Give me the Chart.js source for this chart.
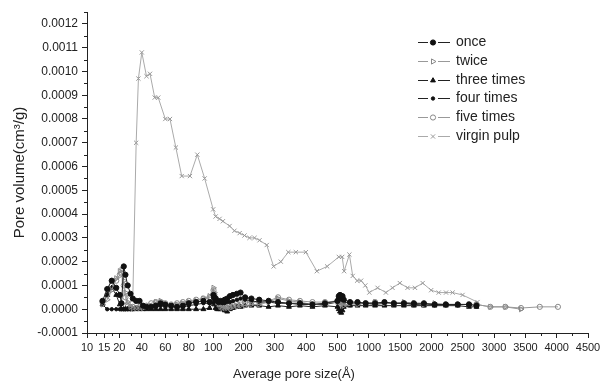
<!DOCTYPE html>
<html>
<head>
<meta charset="utf-8">
<script src="https://cdn.jsdelivr.net/npm/chart.js@4.4.1/dist/chart.umd.min.js"></script>
<style>
  html, body { margin: 0; padding: 0; background: #fff; }
</style>
</head>
<body>
<canvas id="poreChart" width="605" height="381"></canvas>
<script>
// ---- data (pore size in Å, pore volume in cm3/g) ----
const xTickValues = [10, 15, 20, 40, 60, 80, 100, 200, 300, 400, 500, 1000, 1500, 2000, 2500, 3000, 3500, 4000, 4500];
const yTickValues = [-0.0001, 0, 0.0001, 0.0002, 0.0003, 0.0004, 0.0005, 0.0006, 0.0007, 0.0008, 0.0009, 0.0010, 0.0011, 0.0012];

const seriesNames = ["once", "twice", "three times", "four times", "five times", "virgin pulp"];

// shared pore size grid of the treated samples
const poreSize = [
  14.5, 16, 17.5, 19, 20.5, 22, 24, 25.5, 27.5, 30,
  32, 35, 38, 41, 44, 48, 52, 56, 60, 65,
  70, 75, 80, 86, 92, 97, 101, 104, 108, 113,
  118, 124, 130, 138, 146, 155, 165, 178, 190, 205,
  225, 250, 280, 310, 345, 380, 420, 460, 500, 520,
  540, 560, 580, 600, 700, 820, 950, 1100, 1250, 1400,
  1560, 1720, 1880, 2050, 2230, 2420, 2600, 2720, 2940, 3180,
  3430, 3730, 4020
];

const once = [
  3.5e-5, 8.5e-5, 12e-5, 9e-5, 6e-5, 2.5e-5, 18e-5, 14.5e-5, 10e-5, 6.5e-5,
  4.5e-5, 3.5e-5, 3.5e-5, 1.5e-5, 1e-5, 1e-5, 1.5e-5, 2.5e-5, 2e-5, 1.5e-5,
  1e-5, 1.5e-5, 2.5e-5, 3e-5, 3.5e-5, 3e-5, 6e-5, 5e-5, 4.5e-5, 3.5e-5,
  3e-5, 3.5e-5, 3e-5, 4e-5, 4.5e-5, 5.5e-5, 6e-5, 6.5e-5, 7e-5, 5e-5,
  4.5e-5, 4e-5, 3.5e-5, 3e-5, 2.5e-5, 2.5e-5, 2e-5, 2.5e-5, 3.5e-5, 5.5e-5,
  6e-5, 4.5e-5, 5.5e-5, 4e-5, 3e-5, 3e-5, 2.5e-5, 2.5e-5, 3e-5, 2.5e-5,
  2.5e-5, 2.5e-5, 2.5e-5, 2e-5, 2e-5, 2e-5, 2e-5, 1.5e-5, null, null,
  null, null, null
];

const twice = [
  2e-5, 4e-5, 8e-5, 13e-5, 16e-5, 16.5e-5, 12e-5, 7e-5, 3e-5, 1e-5,
  0.5e-5, 0.5e-5, 0.5e-5, 0.5e-5, 1e-5, 1.5e-5, 3e-5, 3.5e-5, 2e-5, 1.5e-5,
  2e-5, 2.5e-5, 3e-5, 3.5e-5, 4.5e-5, 5.5e-5, 9e-5, 7e-5, 5e-5, 3e-5,
  2e-5, 1e-5, 0.5e-5, 0.5e-5, 0.5e-5, 0.5e-5, 1e-5, 1e-5, 1.5e-5, 1.5e-5,
  2e-5, 2e-5, 3e-5, 4.5e-5, 3.5e-5, 3e-5, 2e-5, 2.5e-5, 3e-5, 4e-5,
  3e-5, 3e-5, 2.5e-5, 1.5e-5, 2.5e-5, 2e-5, 2.5e-5, 3e-5, 2.5e-5, 2.5e-5,
  3e-5, 2.5e-5, 2e-5, 2.5e-5, 2e-5, 2e-5, 2e-5, 2e-5, 1e-5, 1e-5,
  0, null, null
];

const threeTimes = [
  2e-5, 6e-5, 9e-5, 6e-5, 2e-5, 0, 0, 0, 0, 0,
  0, 0, 0, 0, 0, 0, 0, 0, 0, 0,
  0, 0, 0, 0, 0, 0.5e-5, 3e-5, 2e-5, 0.5e-5, 0,
  0, 0, 0, -0.5e-5, -1e-5, 0, 0.5e-5, 1e-5, 1e-5, 1.5e-5,
  1.5e-5, 1.5e-5, 1e-5, 1.5e-5, 1e-5, 1.5e-5, 1e-5, 1.5e-5, 1e-5, 0,
  -1e-5, -1.5e-5, -0.5e-5, 1e-5, 1.5e-5, 1.5e-5, 1.5e-5, 1.5e-5, 1.5e-5, 1.5e-5,
  1.5e-5, 1.5e-5, 1.5e-5, 1.5e-5, 1.5e-5, 1.5e-5, 1e-5, 1e-5, null, null,
  null, null, null
];

const fourTimes = [
  2e-5, 0, 0, 0, 0, 0, 0, 0, 0, 0,
  0, 0.5e-5, 0.5e-5, 1e-5, 1e-5, 1e-5, 1e-5, 1.5e-5, 1e-5, 1e-5,
  1e-5, 1e-5, 1.5e-5, 2e-5, 2.5e-5, 2.5e-5, 5e-5, 4e-5, 3.5e-5, 3e-5,
  2.5e-5, 2.5e-5, 2.5e-5, 2.5e-5, 3e-5, 3e-5, 3.5e-5, 4e-5, 4.5e-5, 4e-5,
  3.5e-5, 3e-5, 3e-5, 2.5e-5, 2.5e-5, 2e-5, 2e-5, 2e-5, 3e-5, 4.5e-5,
  5e-5, 6e-5, 4.5e-5, 3e-5, 2.5e-5, 2.5e-5, 2.5e-5, 2e-5, 2.5e-5, 2.5e-5,
  2.5e-5, 2e-5, 2e-5, 2e-5, 2e-5, 2e-5, 2e-5, 2e-5, null, null,
  null, null, null
];

const fiveTimes = [
  3e-5, 6e-5, 10e-5, 12e-5, 14.5e-5, 15e-5, 10e-5, 5e-5, 2e-5, 1e-5,
  1e-5, 0.5e-5, 1e-5, 1e-5, 1.5e-5, 2.5e-5, 3e-5, 3e-5, 2.5e-5, 2e-5,
  2.5e-5, 3e-5, 3.5e-5, 4e-5, 4.5e-5, 5e-5, 8e-5, 6e-5, 4e-5, 2.5e-5,
  1.5e-5, 1e-5, 1e-5, 1e-5, 1.5e-5, 2e-5, 2e-5, 2.5e-5, 3e-5, 3e-5,
  3e-5, 3e-5, 3.5e-5, 5e-5, 4e-5, 3.5e-5, 3e-5, 3e-5, 3.5e-5, 3e-5,
  2e-5, 2e-5, 1.5e-5, 1.5e-5, 2e-5, 2.5e-5, 2.5e-5, 3e-5, 2.5e-5, 2.5e-5,
  2.5e-5, 2e-5, 2e-5, 2e-5, 2e-5, 2e-5, 2e-5, 2e-5, 1e-5, 1e-5,
  0.5e-5, 1e-5, 1e-5
];

// virgin pulp has its own pore size grid
const virginSize = [
  32, 35, 37, 40, 44, 47, 51, 54, 60, 64,
  69, 74, 81, 87, 93, 100, 108, 121, 132, 154,
  170, 187, 203, 219, 235, 251, 274, 296, 319, 343,
  367, 399, 434, 467, 521, 575, 606, 690, 743, 813,
  876, 944, 1008, 1140, 1273, 1378, 1495, 1618, 1737, 1860,
  1995, 2116, 2233, 2338, 2497, 2735
];
const virginPulp = [
  4e-5, 70e-5, 97e-5, 108e-5, 98e-5, 99e-5, 89e-5, 89e-5, 80e-5, 80e-5,
  68e-5, 56e-5, 56e-5, 65e-5, 55e-5, 42e-5, 39e-5, 38e-5, 37e-5, 35e-5,
  33e-5, 32e-5, 31e-5, 30e-5, 30e-5, 29e-5, 27e-5, 18e-5, 20e-5, 24e-5,
  24e-5, 24e-5, 16e-5, 18e-5, 22e-5, 22e-5, 16e-5, 23e-5, 14e-5, 12e-5,
  12e-5, 10e-5, 7e-5, 9e-5, 7e-5, 9e-5, 11e-5, 9e-5, 9e-5, 11e-5,
  8e-5, 7e-5, 7e-5, 7e-5, 6e-5, 3e-5
];

// ---- broken x axis: each labelled size sits at its own slot ----
const axisSlots = [0, 0.55, 1.03, 1.75, 2.5, 3.25, 4.03, 5, 6, 7, 8, 9, 10, 11, 12, 13, 14, 15, 16];

function slotOf(size) {
  for (let i = 0; i < xTickValues.length - 1; i++) {
    const a = xTickValues[i], b = xTickValues[i + 1];
    if (size <= b || i === xTickValues.length - 2) {
      return axisSlots[i] + (size - a) / (b - a) * (axisSlots[i + 1] - axisSlots[i]);
    }
  }
}

function toPoints(sizes, values) {
  const pts = [];
  sizes.forEach((s, i) => {
    if (values[i] !== null) pts.push({ x: slotOf(s), y: values[i] });
  });
  return pts;
}

const FONT = "'Liberation Sans', Arial, Helvetica, sans-serif";
const INK = "#222";
const GREY = "#999";

function series(label, sizes, values, style) {
  return Object.assign({
    label,
    data: toPoints(sizes, values),
    borderWidth: 1,
    pointBorderWidth: 1,
    pointHoverRadius: 0,
    tension: 0,
    fill: false
  }, style);
}

const datasets = [
  series(seriesNames[0], poreSize, once, {
    borderColor: INK, pointStyle: "circle", pointRadius: 2.6,
    pointBackgroundColor: "#111", pointBorderColor: "#111"
  }),
  series(seriesNames[1], poreSize, twice, {
    borderColor: GREY, pointStyle: "triangle", pointRotation: 90, pointRadius: 3,
    pointBackgroundColor: "rgba(0,0,0,0)", pointBorderColor: "#888"
  }),
  series(seriesNames[2], poreSize, threeTimes, {
    borderColor: INK, pointStyle: "triangle", pointRadius: 2.8,
    pointBackgroundColor: "#111", pointBorderColor: "#111"
  }),
  series(seriesNames[3], poreSize, fourTimes, {
    borderColor: INK, pointStyle: "circle", pointRadius: 1.7,
    pointBackgroundColor: "#111", pointBorderColor: "#111"
  }),
  series(seriesNames[4], poreSize, fiveTimes, {
    borderColor: GREY, pointStyle: "circle", pointRadius: 2.6,
    pointBackgroundColor: "rgba(0,0,0,0)", pointBorderColor: "#888"
  }),
  series(seriesNames[5], virginSize, virginPulp, {
    borderColor: "#aaa", pointStyle: "crossRot", pointRadius: 3,
    pointBackgroundColor: "#aaa", pointBorderColor: "#999"
  })
];

// short minor ticks between the labelled ones
const minorTicks = {
  id: "minorTicks",
  afterDraw(chart) {
    const { ctx, scales: { x, y } } = chart;
    ctx.save();
    ctx.strokeStyle = INK;
    ctx.lineWidth = 1;
    ctx.beginPath();
    for (let i = 0; i < axisSlots.length - 1; i++) {
      const px = Math.round(x.getPixelForValue((axisSlots[i] + axisSlots[i + 1]) / 2)) + 0.5;
      ctx.moveTo(px, x.top);
      ctx.lineTo(px, x.top + 3);
    }
    const yMinor = [];
    for (let i = 0; i < yTickValues.length - 1; i++) yMinor.push((yTickValues[i] + yTickValues[i + 1]) / 2);
    yMinor.push(y.max);
    yMinor.forEach(v => {
      const py = Math.round(y.getPixelForValue(v)) + 0.5;
      ctx.moveTo(y.right, py);
      ctx.lineTo(y.right - 3, py);
    });
    ctx.stroke();
    ctx.restore();
  }
};

// legend block in the upper right: line, marker, line, name
const sideLegend = {
  id: "sideLegend",
  afterDraw(chart) {
    const ctx = chart.ctx;
    ctx.save();
    chart.data.datasets.forEach((ds, i) => {
      const yy = Math.round(42 + i * 18.8) + 0.5;
      ctx.strokeStyle = ds.borderColor;
      ctx.lineWidth = 1;
      ctx.beginPath();
      ctx.moveTo(418, yy); ctx.lineTo(428, yy);
      ctx.moveTo(438, yy); ctx.lineTo(450, yy);
      ctx.stroke();
      ctx.fillStyle = ds.pointBackgroundColor;
      ctx.strokeStyle = ds.pointBorderColor;
      Chart.helpers.drawPoint(ctx, {
        pointStyle: ds.pointStyle,
        radius: ds.pointRadius,
        rotation: ds.pointRotation || 0,
        borderWidth: 1
      }, 433, yy);
      ctx.fillStyle = INK;
      ctx.font = "14px " + FONT;
      ctx.textBaseline = "middle";
      ctx.textAlign = "left";
      ctx.fillText(ds.label, 456, yy);
    });
    ctx.restore();
  }
};

new Chart(document.getElementById("poreChart"), {
  type: "line",
  data: { datasets },
  plugins: [minorTicks, sideLegend],
  options: {
    responsive: false,
    animation: false,
    devicePixelRatio: 1,
    layout: { padding: { top: 12, right: 17, left: 0, bottom: 0 } },
    plugins: {
      legend: { display: false },
      tooltip: { enabled: false },
      title: {
        display: true,
        position: "bottom",
        text: "Average pore size(Å)",
        color: INK,
        font: { family: FONT, size: 13, weight: "normal", lineHeight: 1 },
        padding: { top: 0, bottom: 0 }
      }
    },
    scales: {
      x: {
        type: "linear",
        min: 0,
        max: 16,
        afterBuildTicks: s => { s.ticks = axisSlots.map(v => ({ value: v })); },
        afterFit: s => { s.height = 35; },
        border: { color: INK, width: 1 },
        grid: { drawOnChartArea: false, tickLength: 5, color: INK },
        ticks: {
          autoSkip: false,
          maxRotation: 0,
          padding: 3,
          color: INK,
          font: { family: FONT, size: 11 },
          callback: (v, i) => String(xTickValues[i])
        }
      },
      y: {
        min: -0.0001,
        max: 0.00125,
        afterBuildTicks: s => { s.ticks = yTickValues.map(v => ({ value: v })); },
        afterFit: s => { s.width = 87; },
        border: { color: INK, width: 1 },
        grid: { drawOnChartArea: false, tickLength: 5, color: INK },
        ticks: {
          padding: 4,
          color: INK,
          font: { family: FONT, size: 12 },
          callback: v => v.toFixed(4)
        },
        title: {
          display: true,
          text: "Pore volume(cm³/g)",
          color: INK,
          font: { family: FONT, size: 15 },
          padding: { top: 11, bottom: 0 }
        }
      }
    }
  }
});
</script>
</body>
</html>
